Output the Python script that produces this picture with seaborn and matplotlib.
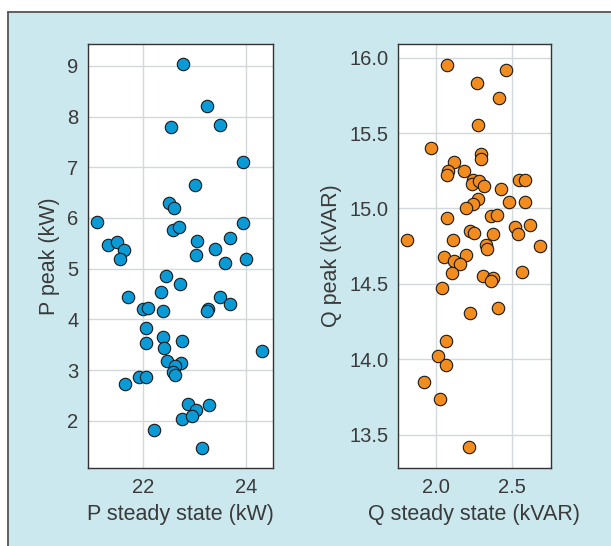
import numpy as np
import pandas as pd
import matplotlib
matplotlib.use("Agg")
import matplotlib.pyplot as plt
from matplotlib.lines import Line2D
from matplotlib.patches import Rectangle
import seaborn as sns

# active power: steady state vs peak (kW)
p_steady = [22.77, 23.24, 22.54, 23.50, 23.93, 23.00, 22.51, 22.60, 21.11, 22.58,
            22.69, 23.93, 21.32, 21.49, 21.63, 21.56, 23.04, 23.03, 23.40, 23.69,
            23.59, 23.99, 22.44, 22.72, 21.70, 22.34, 21.99, 22.10, 22.39, 23.25,
            23.24, 23.49, 23.69, 22.05, 22.06, 22.39, 22.41, 22.75, 24.30, 22.47,
            22.74, 22.61, 22.57, 22.62, 21.64, 21.92, 22.05, 22.88, 23.03, 23.28,
            22.75, 22.95, 22.22, 23.15]
p_peak = [9.03, 8.21, 7.79, 7.83, 7.11, 6.65, 6.29, 6.19, 5.92, 5.76,
          5.83, 5.90, 5.46, 5.52, 5.37, 5.19, 5.55, 5.27, 5.39, 5.61,
          5.11, 5.19, 4.85, 4.70, 4.45, 4.54, 4.21, 4.23, 4.17, 4.20,
          4.17, 4.45, 4.30, 3.83, 3.54, 3.65, 3.43, 3.57, 3.38, 3.18,
          3.14, 3.08, 2.97, 2.90, 2.73, 2.87, 2.87, 2.34, 2.22, 2.32,
          2.04, 2.10, 1.81, 1.46]

# reactive power: steady state vs peak (kVAR)
q_steady = [2.072, 2.463, 2.268, 2.412, 2.279, 1.967, 2.296, 2.296, 2.121, 2.079,
            2.074, 2.182, 2.241, 2.235, 2.285, 2.318, 2.428, 2.546, 2.583, 2.480,
            2.588, 2.274, 2.243, 2.197, 2.072, 2.364, 2.401, 2.522, 2.616, 2.537,
            2.222, 2.250, 2.373, 1.809, 2.112, 2.684, 2.329, 2.333, 2.053, 2.197,
            2.121, 2.158, 2.564, 2.105, 2.311, 2.373, 2.364, 2.042, 2.224, 2.406,
            2.068, 2.011, 2.066, 1.921, 2.026, 2.219]
q_peak = [15.95, 15.92, 15.83, 15.73, 15.55, 15.40, 15.36, 15.33, 15.31, 15.25,
          15.22, 15.25, 15.19, 15.16, 15.18, 15.15, 15.13, 15.19, 15.19, 15.04,
          15.04, 15.06, 15.03, 15.00, 14.94, 14.95, 14.96, 14.88, 14.89, 14.83,
          14.85, 14.84, 14.83, 14.79, 14.79, 14.75, 14.76, 14.73, 14.68, 14.69,
          14.65, 14.63, 14.58, 14.57, 14.55, 14.54, 14.52, 14.47, 14.31, 14.34,
          14.12, 14.02, 13.96, 13.85, 13.74, 13.42]

p_df = pd.DataFrame({'steady': p_steady, 'peak': p_peak})
q_df = pd.DataFrame({'steady': q_steady, 'peak': q_peak})

sns.set_style("whitegrid")
plt.rcParams['font.family'] = ['Liberation Sans', 'DejaVu Sans']

bg = '#cbe8ee'
text_col = '#3a3a3a'

fig = plt.figure(figsize=(6.11, 5.46), dpi=100)
fig.patch.set_facecolor('white')
# light blue panel with a dark rule on the left and top edges
fig.patches.append(Rectangle((8 / 611, 0), 1, 1 - 12 / 546, transform=fig.transFigure,
                             facecolor=bg, edgecolor='none', zorder=-10))
fig.lines.append(Line2D([8 / 611, 8 / 611], [0, 1 - 12 / 546], transform=fig.transFigure,
                        color='#555555', lw=1.3, zorder=-9))
fig.lines.append(Line2D([8 / 611, 1], [1 - 12 / 546, 1 - 12 / 546], transform=fig.transFigure,
                        color='#555555', lw=1.3, zorder=-9))

ax1 = fig.add_axes([88 / 611, 1 - 468 / 546, 185 / 611, 424 / 546])
ax2 = fig.add_axes([398 / 611, 1 - 468 / 546, 153 / 611, 424 / 546])

sns.scatterplot(data=p_df, x='steady', y='peak', ax=ax1, color='#0a9ad6',
                edgecolor='#1a1a1a', linewidth=0.8, s=80, zorder=3)
sns.scatterplot(data=q_df, x='steady', y='peak', ax=ax2, color='#f28c1e',
                edgecolor='#1a1a1a', linewidth=0.8, s=80, zorder=3)

ax1.set_xlim(20.93, 24.52)
ax1.set_ylim(1.07, 9.43)
ax1.set_xticks([22, 24])
ax1.set_yticks([2, 3, 4, 5, 6, 7, 8, 9])
ax1.set_xlabel('P steady state (kW)')
ax1.set_ylabel('P peak (kW)')

ax2.set_xlim(1.75, 2.757)
ax2.set_ylim(13.28, 16.09)
ax2.set_xticks([2.0, 2.5])
ax2.set_yticks([13.5, 14.0, 14.5, 15.0, 15.5, 16.0])
ax2.set_xticklabels(['2.0', '2.5'])
ax2.set_yticklabels(['13.5', '14.0', '14.5', '15.0', '15.5', '16.0'])
ax2.set_xlabel('Q steady state (kVAR)')
ax2.set_ylabel('Q peak (kVAR)')

for ax in (ax1, ax2):
    ax.set_facecolor('white')
    ax.grid(True, color='#d3d8db', lw=1.0)
    ax.set_axisbelow(True)
    for sp in ax.spines.values():
        sp.set_visible(True)
        sp.set_color('#333333')
        sp.set_linewidth(1.0)
    ax.tick_params(axis='both', direction='in', length=6, width=1.4, color='#222222',
                   labelsize=14.5, labelcolor=text_col, pad=7, top=False, right=False)
    ax.xaxis.label.set_size(15.5)
    ax.yaxis.label.set_size(15.5)
    ax.xaxis.label.set_color(text_col)
    ax.yaxis.label.set_color(text_col)
    ax.xaxis.labelpad = 5
    ax.yaxis.labelpad = 5

fig.savefig('out.png', dpi=100, facecolor=fig.get_facecolor())
